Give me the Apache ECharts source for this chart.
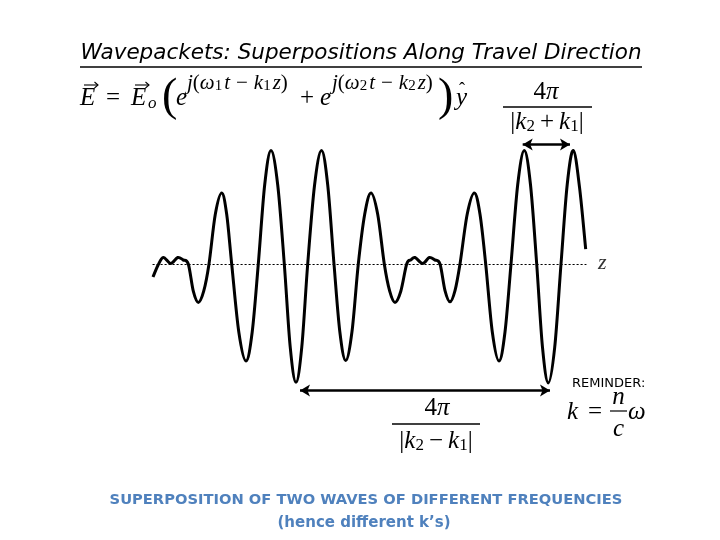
<!DOCTYPE html>
<html>
<head>
<meta charset="utf-8">
<script src="https://cdn.jsdelivr.net/npm/echarts@6/dist/echarts.min.js"></script>
<style>
html,body{margin:0;padding:0;background:#fff;}
#main{width:720px;height:540px;}
</style>
</head>
<body>
<div id="main"></div>
<script>
// Positions along travel direction (z, arbitrary units)
const zPos = [0.0, 0.5, 1.03, 1.77, 2.47, 3.0, 3.53, 4.03, 4.53, 5.07, 5.6, 6.23, 6.87, 7.37, 7.87, 8.58, 9.3, 9.92, 10.53, 11.17, 11.8, 12.47, 13.13, 13.72, 14.3, 14.88, 15.47, 16.16, 16.85, 17.47, 18.1, 18.68, 19.27, 19.9, 20.53, 21.17, 21.8, 22.47, 23.13, 23.67, 24.2, 24.78, 25.37, 25.8, 26.2, 26.97, 27.63, 28.17, 28.7, 29.2, 29.7, 30.2, 30.7, 31.42, 32.13, 32.7, 33.27, 33.93, 34.6, 35.2, 35.8, 36.47, 37.13, 37.75, 38.37, 38.95, 39.53, 40.17, 40.8, 41.42, 42.03, 42.65, 43.27];
// Field values (E) at those positions
const field = [-0.22, -0.02, 0.11, 0.01, 0.11, 0.07, 0.0, -0.46, -0.65, -0.46, 0.0, 0.84, 1.2, 0.84, 0.0, -1.15, -1.64, -1.15, 0.0, 1.34, 1.92, 1.34, 0.0, -1.4, -2.0, -1.4, 0.0, 1.34, 1.92, 1.34, 0.0, -1.14, -1.63, -1.14, 0.0, 0.84, 1.2, 0.84, 0.0, -0.46, -0.65, -0.46, 0.0, 0.07, 0.11, 0.01, 0.11, 0.07, 0.0, -0.45, -0.64, -0.45, 0.0, 0.84, 1.2, 0.84, 0.0, -1.15, -1.64, -1.15, 0.0, 1.34, 1.92, 1.34, 0.0, -1.41, -2.01, -1.41, 0.0, 1.34, 1.92, 1.3, 0.25];
// Double arrows: [zStart, zEnd, level]
const shortArrow = [36.97, 41.7, 2.02];
const longArrow = [14.7, 39.7, -2.14];

const titleText = 'Wavepackets: Superpositions Along Travel Direction';
const caption1 = 'SUPERPOSITION OF TWO WAVES OF DIFFERENT FREQUENCIES';
const caption2 = '(hence different k\u2019s)';
const reminderText = 'REMINDER:';

const data = zPos.map((z, i) => [z, field[i]]);

const SERIF = '"Liberation Serif", "DejaVu Serif", serif';
function txt(x, y, text, font, extra) {
  return {
    type: 'text', x: x, y: y, silent: true,
    style: Object.assign({text: text, font: font, fill: '#000', align: 'left', verticalAlign: 'middle'}, extra || {})
  };
}
function ln(x1, y1, x2, y2, w) {
  return {type: 'line', silent: true, shape: {x1: x1, y1: y1, x2: x2, y2: y2}, style: {stroke: '#000', lineWidth: w || 1.3}};
}
function vecArrow(x1, x2, y) {
  return [ln(x1, y, x2, y, 1.1), {type: 'polyline', silent: true, shape: {points: [[x2 - 3.5, y - 3], [x2, y], [x2 - 3.5, y + 3]]}, style: {stroke: '#000', lineWidth: 1.1, fill: null}}];
}
const richSup = {
  i: {font: 'italic 21px ' + SERIF, lineHeight: 22, fill: '#000'},
  r: {font: '21px ' + SERIF, lineHeight: 22, fill: '#000'},
  m: {font: '21px ' + SERIF, lineHeight: 22, fill: '#000', padding: [0, 6, 0, 6]},
  s: {font: '15px ' + SERIF, lineHeight: 12, verticalAlign: 'bottom', fill: '#000', padding: [0, 2, 0, 0]}
};
const richMain = {
  i: {font: 'italic 25px ' + SERIF, lineHeight: 26, fill: '#000'},
  r: {font: '25px ' + SERIF, lineHeight: 26, fill: '#000'},
  m: {font: '25px ' + SERIF, lineHeight: 26, fill: '#000', padding: [0, 5, 0, 5]},
  s: {font: '17px ' + SERIF, lineHeight: 14, verticalAlign: 'bottom', fill: '#000'}
};

const graphics = [
  txt(361, 53, titleText, 'italic 21.5px "DejaVu Sans", sans-serif', {align: 'center'}),
  ln(80, 67, 642, 67, 1.5),
  // main equation
  txt(80, 98.5, 'E', 'italic 25px ' + SERIF),
  ...vecArrow(84, 98, 85),
  txt(106, 98.5, '=', '25px ' + SERIF),
  txt(131, 98.5, 'E', 'italic 25px ' + SERIF),
  ...vecArrow(135, 149, 85),
  txt(148, 103.5, 'o', 'italic 17px ' + SERIF),
  txt(162, 98, '(', '46px ' + SERIF),
  txt(176, 98.5, 'e', 'italic 25px ' + SERIF),
  txt(187, 83, '{i|j}{r|(}{i|\u03c9}{s|1}{i|t}{m|\u2212}{i|k}{s|1}{i|z}{r|)}', null, {rich: richSup}),
  txt(300, 98.5, '+', '25px ' + SERIF),
  txt(320, 98.5, 'e', 'italic 25px ' + SERIF),
  txt(332, 83, '{i|j}{r|(}{i|\u03c9}{s|2}{i|t}{m|\u2212}{i|k}{s|2}{i|z}{r|)}', null, {rich: richSup}),
  txt(438, 98, ')', '46px ' + SERIF),
  txt(456, 98.5, 'y', 'italic 25px ' + SERIF),
  txt(459, 90, '\u02c6', '18px ' + SERIF),
  // fraction top right
  txt(546, 92.5, '{r|4}{i|\u03c0}', null, {rich: richMain, align: 'center'}),
  ln(503, 107, 592, 107, 1.3),
  txt(547, 122, '{r||}{i|k}{s|2}{m|+}{i|k}{s|1}{r||}', null, {rich: richMain, align: 'center'}),
  // z label
  txt(598, 263, 'z', 'italic 22px ' + SERIF, {fill: '#333'}),
  // bottom fraction
  txt(437, 408.5, '{r|4}{i|\u03c0}', null, {rich: richMain, align: 'center'}),
  ln(392, 424, 480, 424, 1.3),
  txt(436, 441, '{r||}{i|k}{s|2}{m|\u2212}{i|k}{s|1}{r||}', null, {rich: richMain, align: 'center'}),
  // reminder
  txt(572, 384, reminderText, '13px "DejaVu Sans", sans-serif'),
  txt(567, 412, 'k', 'italic 25px ' + SERIF),
  txt(588, 412, '=', '25px ' + SERIF),
  txt(618.5, 397.5, 'n', 'italic 25px ' + SERIF, {align: 'center'}),
  ln(610, 411, 627, 411, 1.2),
  txt(618.5, 429, 'c', 'italic 25px ' + SERIF, {align: 'center'}),
  txt(628, 412, '\u03c9', 'italic 25px ' + SERIF),
  // captions
  txt(366, 500, caption1, 'bold 14.7px "DejaVu Sans", sans-serif', {align: 'center', fill: '#4f81bd'}),
  txt(364, 523, caption2, 'bold 15px "DejaVu Sans", sans-serif', {align: 'center', fill: '#4f81bd'})
];

// Smooth curve through the data points (Catmull-Rom), positioned via the chart's axes
function renderWave(params, api) {
  if (params.dataIndex !== 0) return null;
  const pts = data.map(d => api.coord(d));
  const n = pts.length;
  let path = 'M' + pts[0][0] + ' ' + pts[0][1];
  for (let i = 0; i < n - 1; i++) {
    const p0 = pts[Math.max(i - 1, 0)], p1 = pts[i], p2 = pts[i + 1], p3 = pts[Math.min(i + 2, n - 1)];
    const c1x = p1[0] + (p2[0] - p0[0]) / 6, c1y = p1[1] + (p2[1] - p0[1]) / 6;
    const c2x = p2[0] - (p3[0] - p1[0]) / 6, c2y = p2[1] - (p3[1] - p1[1]) / 6;
    path += ' C' + c1x + ' ' + c1y + ' ' + c2x + ' ' + c2y + ' ' + p2[0] + ' ' + p2[1];
  }
  return {
    type: 'path', silent: true,
    shape: {pathData: path},
    style: {stroke: '#000', lineWidth: 3, fill: 'none', lineJoin: 'round', lineCap: 'butt'}
  };
}

const chart = echarts.init(document.getElementById('main'), null, {renderer: 'canvas'});
chart.setOption({
  animation: false,
  backgroundColor: '#fff',
  grid: {left: 153, width: 433, top: 122, height: 284},
  xAxis: {
    type: 'value', min: 0, max: 43.3,
    axisLine: {show: true, onZero: true, lineStyle: {color: '#000', width: 1.2, type: [1.2, 2.8]}},
    axisTick: {show: false}, axisLabel: {show: false}, splitLine: {show: false}
  },
  yAxis: {
    type: 'value', min: -2.4, max: 2.4,
    axisLine: {show: false}, axisTick: {show: false}, axisLabel: {show: false}, splitLine: {show: false}
  },
  series: [{
    type: 'custom', data: data, renderItem: renderWave, clip: false,
    encode: {x: 0, y: 1}
  }, {
    type: 'line', data: [], symbol: 'none',
    markLine: {
      silent: true, symbol: ['arrow', 'arrow'], symbolSize: [9, 10],
      label: {show: false},
      lineStyle: {color: '#000', width: 2.5, type: 'solid'},
      data: [
        [{coord: [shortArrow[0], shortArrow[2]]}, {coord: [shortArrow[1], shortArrow[2]]}],
        [{coord: [longArrow[0], longArrow[2]]}, {coord: [longArrow[1], longArrow[2]]}]
      ]
    }
  }],
  graphic: graphics
});
</script>
</body>
</html>
